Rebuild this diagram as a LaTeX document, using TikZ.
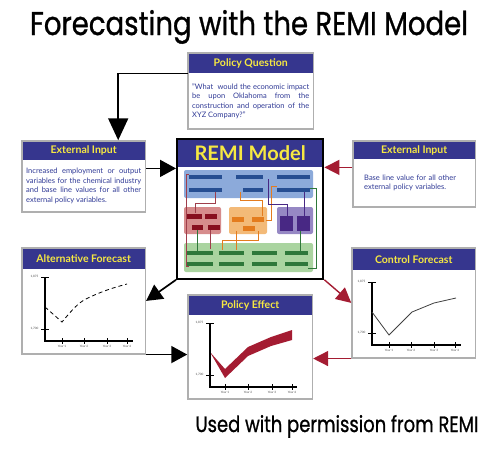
\documentclass[tikz,border=0pt]{standalone}
\usepackage{fontspec}
\setmainfont{Lato}
\newfontfamily\titlefont[FakeBold=1]{Poppins}
\usetikzlibrary{positioning, arrows.meta, fit}

\definecolor{remiNavy}{RGB}{54,54,142}
\definecolor{remiYellow}{RGB}{246,232,66}
\definecolor{remiText}{RGB}{48,58,150}
\definecolor{remiGray}{RGB}{175,175,175}
\definecolor{remiRed}{RGB}{164,28,50}
\definecolor{blueLt}{RGB}{140,170,218}
\definecolor{blueDk}{RGB}{38,78,146}
\definecolor{redLt}{RGB}{214,140,140}
\definecolor{redDk}{RGB}{135,14,30}
\definecolor{orgLt}{RGB}{243,186,120}
\definecolor{orgDk}{RGB}{228,124,30}
\definecolor{purLt}{RGB}{150,136,196}
\definecolor{purDk}{RGB}{72,40,132}
\definecolor{grnLt}{RGB}{170,212,160}
\definecolor{grnDk}{RGB}{46,120,58}

\begin{document}
\begin{tikzpicture}[x=1pt, y=-1pt,
    hdr/.style={rectangle, fill=remiNavy, text=remiYellow, inner sep=0pt, font=\bfseries\fontsize{10.5}{12}\selectfont},
    bodybox/.style={rectangle, fill=white, inner ysep=2pt, inner xsep=4pt, text=remiText, font=\fontsize{7.5}{9.5}\selectfont},
    frame/.style={rectangle, draw=remiGray, line width=1.5pt, inner sep=0pt},
    tiny/.style={font=\fontsize{3}{3}\selectfont, text=black!70, inner sep=0.5pt},
    blk/.style={line width=1.7pt, -{Triangle[width=17pt,length=16pt]}},
    redarr/.style={line width=1.4pt, draw=remiRed, -{Triangle[width=15pt,length=15pt]}, color=remiRed}
]
    \useasboundingbox (0,0) rectangle (500,450);

    \node[anchor=base] (title) at (249,35) {\resizebox{438pt}{25pt}{\titlefont Forecasting with the REMI Model}};

    % policy question
    \node[hdr, anchor=north west, minimum width=125pt, minimum height=20pt] (pqh) at (188,53) {Policy Question};
    \node[bodybox, below=0pt of pqh, text width=117pt, minimum height=55pt, align=justify] (pqb)
        {"What\ \ would the economic impact\linebreak be upon Oklahoma from the\linebreak construction and operation of the\linebreak XYZ Company?"};
    \node[frame, fit=(pqh)(pqb)] (pq) {};

    % external inputs
    \node[hdr, anchor=north west, minimum width=123pt, minimum height=19pt] (leih) at (22,141) {External Input};
    \node[bodybox, below=0pt of leih, text width=115pt, minimum height=51pt, align=justify] (leib)
        {Increased employment or output\linebreak variables for the chemical industry\linebreak and base line values for all other\linebreak external policy variables.};
    \node[frame, fit=(leih)(leib)] (lei) {};

    \node[hdr, anchor=north west, minimum width=122pt, minimum height=18pt] (reih) at (353,141) {External Input};
    \node[bodybox, below=0pt of reih, text width=100pt, inner xsep=11pt, minimum height=47pt, align=left] (reib)
        {Base line value for all other\\external policy variables.\\[6pt]};
    \node[frame, fit=(reih)(reib)] (rei) {};

    % REMI model
    \node[hdr, anchor=north west, minimum width=146pt, minimum height=28pt, font=\bfseries\fontsize{20}{22}\selectfont] (remih) at (177,139) {REMI Model};
    \node[bodybox, below=0pt of remih, minimum width=146pt, minimum height=111pt] (remib) {};
    \fill[blueLt, rounded corners=2pt] (184,170) rectangle (313,198);
    \fill[redLt, rounded corners=2pt] (184,207) rectangle (221,234);
    \fill[orgLt, rounded corners=2pt] (229,207) rectangle (267,234);
    \fill[purLt, rounded corners=2pt] (277,207) rectangle (313,234);
    \fill[grnLt, rounded corners=2pt] (184,243) rectangle (313,272);
    \foreach \xa/\xb/\yy in {189/222/177, 236/263/177, 277/310/177, 189/222/190, 243/263/190, 277/310/190}
        \fill[blueDk] (\xa,\yy-2) rectangle (\xb,\yy+2);
    \foreach \xa/\xb/\yy in {187/202/216, 205/217/216, 192/203/227, 208/220/227}
        \fill[redDk] (\xa,\yy-2.5) rectangle (\xb,\yy+2.5);
    \foreach \xa/\xb/\yy in {232/244/219, 252/264/219, 243/255/228}
        \fill[orgDk] (\xa,\yy-2.5) rectangle (\xb,\yy+2.5);
    \fill[purDk] (280,216) rectangle (293,231);
    \fill[purDk] (297,216) rectangle (310,231);
    \foreach \xa/\xb in {187/213, 219/244, 252/277, 285/308} {
        \fill[grnDk] (\xa,251) rectangle (\xb,255);
        \fill[grnDk] (\xa,262) rectangle (\xb,266);
    }
    \draw[redDk!80, line width=0.5pt] (189,174) -- (186,174) -- (186,266) -- (189,266);
    \draw[redDk!80, line width=0.5pt] (215,192) -- (215,203) -- (195,203) -- (195,213);
    \draw[redDk!80, line width=0.5pt] (210,230) -- (210,249);
    \draw[orgDk, line width=0.5pt] (240,192) -- (240,200) -- (262,200) -- (262,216);
    \draw[orgDk, line width=0.5pt] (236,231) -- (236,250);
    \draw[orgDk, line width=0.5pt] (258,231) -- (258,240) -- (222,240) -- (222,250);
    \draw[orgDk, line width=0.5pt] (266,220) -- (271,220) -- (271,186) -- (277,186);
    \draw[purDk, line width=0.5pt] (268,179) -- (268,204) -- (287,204) -- (287,216);
    \draw[purDk, line width=0.5pt] (304,192) -- (304,216);
    \draw[grnDk, line width=0.5pt] (300,251) -- (300,231);
    \draw[grnDk, line width=0.5pt] (197,251) -- (197,230);
    \draw[grnDk, line width=0.5pt] (310,188) -- (316,188) -- (316,268) -- (308,268);
    \node[frame, draw=black, line width=2pt, fit=(remih)(remib)] (remi) {};

    % forecasts
    \node[hdr, anchor=north west, minimum width=123pt, minimum height=21pt] (alth) at (22,248) {Alternative Forecast};
    \node[bodybox, below=0pt of alth, minimum width=123pt, minimum height=84pt] (altb) {};
    \node[frame, fit=(alth)(altb)] (alt) {};
    \draw[line width=1.2pt] (45,277) -- (45,341) -- (133,341);
    \draw[line width=0.6pt] (41,277) -- (49,277) (41,329) -- (49,329);
    \node[tiny, left=2pt] at (41,277) {1,875};
    \node[tiny, left=2pt] at (41,329) {1,700};
    \foreach \xx/\yr in {62/1, 84/2, 107/3, 127/4} {
        \draw[line width=0.6pt] (\xx,338) -- (\xx,344);
        \node[tiny, below=1pt] at (\xx,344) {Year \yr};
    }
    \draw[dashed, line width=0.8pt, dash pattern=on 4pt off 3pt] (45,307) -- (62,322) .. controls (72,310) and (78,303) .. (86,299) .. controls (100,292) and (112,288) .. (127,284);

    \node[hdr, anchor=north west, minimum width=123pt, minimum height=22pt] (ctlh) at (352,248) {Control Forecast};
    \node[bodybox, below=0pt of ctlh, minimum width=123pt, minimum height=87pt] (ctlb) {};
    \node[frame, fit=(ctlh)(ctlb)] (ctl) {};
    \draw[line width=1.2pt] (372,282) -- (372,345) -- (461,345);
    \draw[line width=0.6pt] (368,282) -- (376,282) (368,333) -- (376,333);
    \node[tiny, left=2pt] at (368,282) {1,875};
    \node[tiny, left=2pt] at (368,333) {1,700};
    \foreach \xx/\yr in {389/1, 411/2, 434/3, 455/4} {
        \draw[line width=0.6pt] (\xx,342) -- (\xx,348);
        \node[tiny, below=1pt] at (\xx,348) {Year \yr};
    }
    \draw[line width=0.8pt, black!75] (372,312) -- (389,335) -- (412,312) -- (434,303) -- (456,298);

    \node[hdr, anchor=north west, minimum width=124pt, minimum height=20pt] (peh) at (188,295) {Policy Effect};
    \node[bodybox, below=0pt of peh, minimum width=124pt, minimum height=83pt] (peb) {};
    \node[frame, fit=(peh)(peb)] (pe) {};
    \fill[remiRed] (210,352) -- (225,369) -- (248,347) -- (271,337) -- (292,330)
        -- (292,340) -- (271,346) -- (248,356) -- (225,378) -- cycle;
    \draw[line width=1.2pt] (210,323) -- (210,387) -- (297,387);
    \draw[line width=0.6pt] (206,323) -- (214,323) (206,375) -- (214,375);
    \node[tiny, left=2pt] at (206,323) {1,875};
    \node[tiny, left=2pt] at (206,375) {1,700};
    \foreach \xx/\yr in {225/1, 248/2, 272/3, 292/4} {
        \draw[line width=0.6pt] (\xx,384) -- (\xx,390);
        \node[tiny, below=1pt] at (\xx,390) {Year \yr};
    }

    % connectors
    \draw[line width=1.8pt, -{Triangle[width=20pt,length=22pt]}] (pqh.south west) -| ([xshift=34.5pt]lei.north);
    \draw[blk] ([yshift=8pt]lei.east) -- ([yshift=8pt]lei.east -| remi.west);
    \draw[redarr] ([yshift=6.5pt]rei.west) -- ([yshift=6.5pt]rei.west -| remi.east);
    \draw[blk] (remi.south west) -- (alt.east);
    \draw[redarr] (remi.south east) -- (ctl.west);
    \draw[blk] (alt.south east) -- (alt.south east -| pe.west);
    \draw[redarr] (ctl.south west) -- (ctl.south west -| pe.east);

    \node[anchor=base] (credit) at (337,432) {\resizebox{283pt}{17pt}{\titlefont Used with permission from REMI}};
\end{tikzpicture}
\end{document}
